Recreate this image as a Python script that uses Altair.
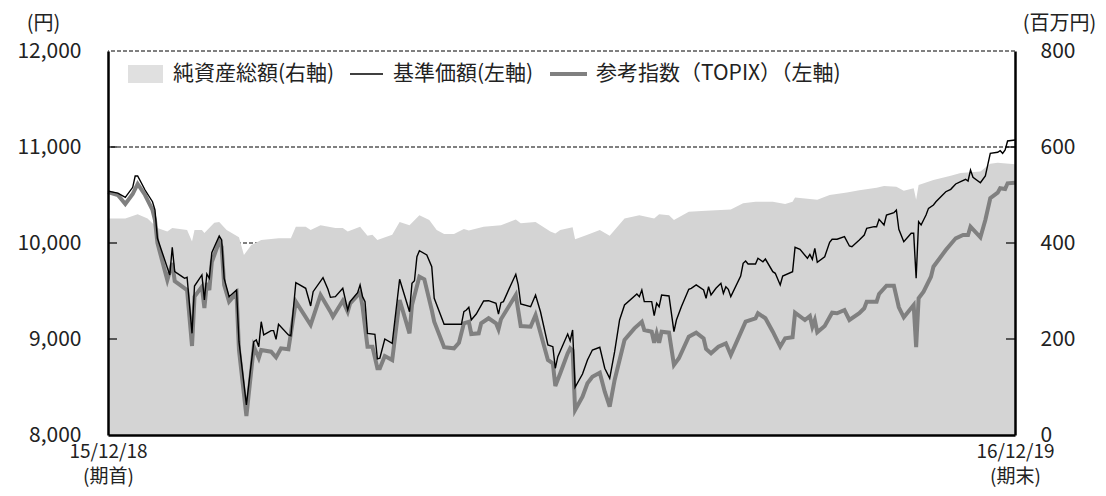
import altair as alt
import pandas as pd
from datetime import date, timedelta

# ---------------- data ----------------
START = date(2015, 12, 18)   # 期首
END = date(2016, 12, 19)     # 期末

# 基準価額 (yen, left axis): days since 2015-12-18 and values
base_days = [0, 4, 7, 10, 11, 12, 15, 18, 19, 20, 25, 26, 27, 30, 31, 32, 34, 35, 38, 39, 40, 41, 42, 45, 46, 47, 49, 52, 53, 56,
             59, 60, 61, 62, 63, 66, 67, 68, 69, 73, 74, 76, 80, 82, 83, 87, 89, 90, 92, 95, 97, 98, 101, 102, 103, 104, 105, 108, 109, 110,
             112, 115, 118, 122, 123, 124, 125, 126, 129, 131, 132, 136, 143, 144, 145, 146, 147, 149, 152, 154, 157, 158, 159, 160, 163, 165, 166, 167, 171, 173,
             175, 178, 180, 181, 182, 186, 187, 188, 189, 192, 194, 196, 199, 201, 203, 205, 207, 209, 214, 215, 216, 217, 220, 221, 222, 223, 224, 227, 229, 230,
             232, 235, 236, 238, 241, 242, 243, 244, 246, 248, 249, 250, 251, 252, 256, 257, 258, 259, 262, 263, 265, 266, 269, 270, 272, 273, 277, 278, 280, 283,
             284, 285, 286, 287, 290, 292, 293, 295, 298, 300, 301, 304, 306, 307, 310, 311, 312, 314, 315, 318, 319, 320, 322, 325, 326, 327, 328, 329, 331, 332,
             334, 335, 337, 339, 341, 343, 345, 347, 348, 349, 350, 353, 355, 357, 360, 361, 362, 363, 364, 367]
base_values = [10540, 10520, 10476, 10580, 10698, 10698, 10552, 10430, 10344, 10049, 9667, 9955, 9701, 9649, 9632, 9643, 9059, 9552, 9667, 9406, 9677, 9632, 9899, 10073, 10031, 9632, 9441, 9510, 8972, 8313,
               8972, 8990, 8920, 9180, 9042, 9087, 9087, 8997, 9153, 9042, 9034, 9586, 9528, 9344, 9493, 9639, 9518, 9434, 9441, 9528, 9302, 9389, 9482, 9563, 9441, 9389, 9059, 9049, 8792, 8799,
               9000, 8955, 9622, 9284, 9580, 9607, 9857, 9920, 9875, 9753, 9424, 9153, 9153, 9284, 9302, 9330, 9198, 9260, 9396, 9399, 9372, 9260, 9378, 9389, 9563, 9674, 9563, 9365, 9336, 9458,
               9284, 8938, 8920, 8695, 8816, 9052, 8982, 9094, 8497, 8635, 8781, 8885, 8914, 8695, 8591, 8868, 9198, 9354, 9469, 9441, 9510, 9389, 9389, 9243, 9372, 9336, 9458, 9448, 9076, 9198,
               9336, 9518, 9528, 9563, 9510, 9424, 9545, 9458, 9528, 9580, 9476, 9545, 9518, 9441, 9656, 9789, 9813, 9781, 9781, 9841, 9805, 9833, 9701, 9684, 9563, 9656, 9701, 9955, 9934, 9841,
               9882, 9830, 9945, 9799, 9857, 10007, 10039, 10039, 10066, 9969, 9962, 10031, 10083, 10153, 10170, 10170, 10247, 10188, 10292, 10316, 10344, 10143, 10014, 10101, 10101, 9632, 10222, 10188, 10292, 10361,
               10396, 10430, 10482, 10534, 10559, 10615, 10639, 10664, 10646, 10760, 10684, 10628, 10698, 10934, 10945, 10961, 10934, 10969, 11063, 11073]

# 参考指数 (TOPIX), left axis
topix_days = [0, 4, 7, 10, 12, 15, 18, 19, 20, 24, 26, 27, 32, 34, 35, 38, 39, 40, 41, 42, 45, 46, 47, 49, 52, 53, 56, 59, 61, 62,
              66, 68, 70, 73, 76, 82, 86, 90, 91, 95, 97, 98, 102, 103, 105, 107, 109, 110, 112, 115, 118, 122, 123, 126, 128, 131, 132, 136, 140, 142,
              144, 146, 147, 150, 151, 154, 157, 158, 159, 165, 167, 171, 173, 175, 178, 180, 181, 183, 186, 187, 188, 189, 192, 194, 196, 199, 201, 203, 205, 209,
              213, 216, 217, 220, 221, 222, 223, 224, 227, 229, 231, 235, 238, 241, 242, 244, 247, 250, 252, 255, 258, 262, 263, 266, 269, 272, 274, 277, 278, 282,
              284, 285, 286, 287, 290, 293, 295, 298, 300, 304, 306, 307, 311, 312, 315, 318, 320, 322, 326, 327, 328, 330, 333, 334, 339, 343, 346, 348, 349, 353,
              355, 357, 360, 361, 363, 364, 367]
topix_values = [10530, 10500, 10406, 10510, 10615, 10500, 10344, 10240, 10000, 9615, 9792, 9604, 9510, 8927, 9441, 9545, 9323, 9583, 9510, 9802, 10014, 9958, 9563, 9389, 9479, 8885, 8198, 8920, 8802, 8885,
                8868, 8809, 8903, 8893, 9389, 9146, 9458, 9284, 9232, 9399, 9284, 9372, 9482, 9336, 8920, 8920, 8695, 8695, 8823, 8781, 9406, 9059, 9354, 9649, 9622, 9302, 9180, 8914, 8903, 8961,
                9164, 9180, 9052, 9059, 9164, 9216, 9164, 9101, 9205, 9458, 9135, 9128, 9250, 9062, 8781, 8747, 8510, 8643, 8851, 8903, 8880, 8260, 8399, 8539, 8607, 8649, 8451, 8295, 8573, 8990,
                9111, 9180, 9094, 9076, 8961, 9059, 8961, 9076, 9066, 8729, 8799, 9024, 9066, 9007, 8896, 8851, 8920, 8955, 8833, 9007, 9180, 9216, 9268, 9216, 9076, 8920, 9007, 9018, 9274, 9198,
                9240, 9128, 9198, 9070, 9135, 9274, 9268, 9302, 9198, 9268, 9320, 9389, 9389, 9469, 9555, 9555, 9330, 9226, 9354, 8914, 9424, 9493, 9649, 9753, 9927, 10049, 10083, 10083, 10170, 10059,
                10240, 10466, 10524, 10570, 10563, 10622, 10628]

# 純資産総額 (million yen, right axis)
nav_days = [0, 7, 12, 16, 20, 24, 26, 32, 34, 35, 38, 39, 43, 45, 48, 53, 55, 58, 62, 69, 74, 76, 80, 82, 86, 92, 95, 97, 102, 105,
            107, 109, 115, 118, 122, 126, 130, 133, 136, 140, 144, 146, 152, 159, 165, 167, 173, 179, 181, 183, 188, 189, 194, 199, 203, 209, 215, 221, 223, 227,
            229, 235, 242, 248, 252, 257, 262, 269, 274, 277, 278, 285, 287, 292, 299, 304, 311, 314, 319, 322, 326, 327, 328, 334, 341, 345, 353, 357, 360, 367]
nav_values = [451, 451, 460, 451, 431, 424, 431, 427, 403, 427, 427, 421, 442, 444, 427, 412, 375, 396, 406, 410, 410, 434, 434, 427, 437, 431, 431, 424, 434, 415,
              417, 406, 417, 444, 437, 458, 448, 427, 419, 419, 429, 426, 434, 437, 449, 441, 444, 424, 420, 427, 433, 408, 417, 427, 415, 451, 458, 451, 460, 458,
              448, 465, 467, 469, 470, 483, 486, 486, 481, 486, 495, 491, 490, 500, 505, 510, 515, 519, 517, 509, 514, 490, 521, 531, 540, 546, 549, 565, 567, 564]

left_ticks = [8000, 9000, 10000, 11000, 12000]
right_ticks = [0, 200, 400, 600, 800]
grid_values = [10000, 11000, 12000]
inner_tick_values = [9000, 10000, 11000]
legend_labels = ["純資産総額(右軸)", "基準価額(左軸)", "参考指数（TOPIX）（左軸)"]
end_labels = ["(期首)", "(期末)"]


def to_dates(days):
    return [(START + timedelta(days=d)).isoformat() for d in days]


base_df = pd.DataFrame({"date": to_dates(base_days), "v": base_values})
topix_df = pd.DataFrame({"date": to_dates(topix_days), "v": topix_values})
nav_df = pd.DataFrame({"date": to_dates(nav_days), "v": nav_values})

# ---------------- styling ----------------
FONT = "Noto Sans CJK JP"
FS = 21
TXT = "#222222"
W, H = 907, 384

d0 = alt.DateTime(year=START.year, month=START.month, date=START.day, utc=True)
d1 = alt.DateTime(year=END.year, month=END.month, date=END.day, utc=True)
x_scale = alt.Scale(type="utc", domain=[d0, d1])
x_axis = alt.Axis(
    values=[d0, d1],
    labelExpr=f"[utcFormat(datum.value, '%y/%m/%d'), datum.index < 0.5 ? '{end_labels[0]}' : '{end_labels[1]}']",
    ticks=False, grid=False, domainColor="black", domainWidth=2.5,
    labelFont=FONT, labelFontSize=19, labelColor=TXT, labelPadding=7, labelLineHeight=25,
    labelFlush=False, labelOverlap=False, labelBound=False, labelAlign="center", labelBaseline="top",
    title=None, zindex=1,
)
X = alt.X("date:T", scale=x_scale, axis=x_axis)

left_scale = alt.Scale(domain=[8000, 12000], nice=False, zero=False)
left_axis = alt.Axis(
    orient="left", values=left_ticks, format=",.0f", ticks=False, grid=False,
    domainColor="black", domainWidth=2.5,
    labelFont=FONT, labelFontSize=FS, labelColor=TXT, labelPadding=27, labelFlush=False,
    title="(円)", titleAngle=0, titleX=-65, titleY=-28, titleAlign="center", titleBaseline="middle",
    titleFont=FONT, titleFontSize=20, titleFontWeight="normal", titleColor=TXT, zindex=1,
)
right_scale = alt.Scale(domain=[0, 800], nice=False)
right_axis = alt.Axis(
    orient="right", values=right_ticks, format="d", ticks=False, grid=False,
    domainColor="black", domainWidth=2.5,
    labelFont=FONT, labelFontSize=FS, labelColor=TXT, labelPadding=25, labelFlush=False,
    title="(百万円)", titleAngle=0, titleX=44, titleY=-28, titleAlign="center", titleBaseline="middle",
    titleFont=FONT, titleFontSize=20, titleFontWeight="normal", titleColor=TXT, zindex=1,
)

# dashed grid lines (drawn below the area)
grid = alt.Chart(pd.DataFrame({"v": grid_values})).mark_rule(
    color="black", strokeWidth=1, strokeDash=[4, 2]
).encode(y=alt.Y("v:Q", scale=left_scale, axis=None))

area = alt.Chart(nav_df).mark_area(color="#d4d4d4", opacity=1).encode(
    x=X, y=alt.Y("v:Q", scale=right_scale, axis=right_axis)
)

topix_line = alt.Chart(topix_df).mark_line(color="#808080", strokeWidth=4).encode(
    x=X, y=alt.Y("v:Q", scale=left_scale, axis=left_axis)
)
base_line = alt.Chart(base_df).mark_line(color="black", strokeWidth=1.4).encode(
    x=X, y=alt.Y("v:Q", scale=left_scale, axis=left_axis)
)
tick_df = pd.DataFrame({"v": inner_tick_values})
ticks_l = alt.Chart(tick_df).mark_rule(color="black", strokeWidth=1.2).encode(
    y=alt.Y("v:Q", scale=left_scale, axis=left_axis), x=alt.value(0), x2=alt.value(9)
)
ticks_r = alt.Chart(tick_df).mark_rule(color="black", strokeWidth=1.2).encode(
    y=alt.Y("v:Q", scale=left_scale, axis=left_axis), x=alt.value(W - 9), x2=alt.value(W)
)
left_group = alt.layer(topix_line, base_line, ticks_l, ticks_r)

# legend (inside the plot, top-left)
one = pd.DataFrame({"k": [0]})
leg_patch = alt.Chart(one).mark_rect(color="#e0e0e0").encode(
    x=alt.value(20), x2=alt.value(55), y=alt.value(14), y2=alt.value(32)
)
leg_line1 = alt.Chart(one).mark_rule(color="black", strokeWidth=1.4).encode(
    x=alt.value(242), x2=alt.value(275), y=alt.value(23)
)
leg_line2 = alt.Chart(one).mark_rule(color="#808080", strokeWidth=4).encode(
    x=alt.value(442), x2=alt.value(479), y=alt.value(23)
)


def leg_text(label, xpos):
    return alt.Chart(pd.DataFrame({"t": [label]})).mark_text(
        font=FONT, fontSize=FS, color=TXT, align="left", baseline="middle"
    ).encode(x=alt.value(xpos), y=alt.value(23), text="t:N")


legend = alt.layer(
    leg_patch, leg_text(legend_labels[0], 65),
    leg_line1, leg_text(legend_labels[1], 285),
    leg_line2, leg_text(legend_labels[2], 488),
)

chart = alt.layer(grid, area, left_group, legend).resolve_scale(
    y="independent"
).properties(
    width=W, height=H,
    padding={"left": 100, "top": 43, "right": 83, "bottom": 53},
    autosize=alt.AutoSizeParams(type="none"),
).configure_view(stroke=None)

chart.save("out.html", embed_options={"renderer": "svg", "actions": False})
